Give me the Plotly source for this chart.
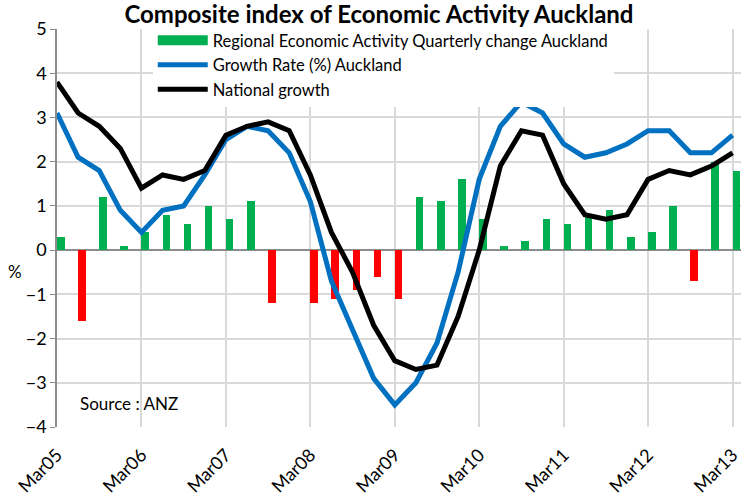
import plotly.graph_objects as go

quarters = list(range(33))
tick_pos = [0, 4, 8, 12, 16, 20, 24, 28, 32]
tick_labels = ["Mar05", "Mar06", "Mar07", "Mar08", "Mar09", "Mar10", "Mar11", "Mar12", "Mar13"]

regional_change = [0.3, -1.6, 1.2, 0.1, 0.4, 0.8, 0.6, 1.0, 0.7, 1.1, -1.2, 0.0,
                   -1.2, -1.1, -0.9, -0.6, -1.1, 1.2, 1.1, 1.6, 0.7, 0.1, 0.2, 0.7,
                   0.6, 0.8, 0.9, 0.3, 0.4, 1.0, -0.7, 2.0, 1.8]
auckland_growth = [3.1, 2.1, 1.8, 0.9, 0.4, 0.9, 1.0, 1.7, 2.5, 2.8, 2.7, 2.2,
                   1.1, -0.7, -1.8, -2.9, -3.5, -3.0, -2.1, -0.5, 1.6, 2.8, 3.35, 3.1,
                   2.4, 2.1, 2.2, 2.4, 2.7, 2.7, 2.2, 2.2, 2.6]
national_growth = [3.8, 3.1, 2.8, 2.3, 1.4, 1.7, 1.6, 1.8, 2.6, 2.8, 2.9, 2.7,
                   1.7, 0.4, -0.5, -1.7, -2.5, -2.7, -2.6, -1.5, 0.0, 1.9, 2.7, 2.6,
                   1.5, 0.8, 0.7, 0.8, 1.6, 1.8, 1.7, 1.9, 2.2]

names = ["Regional Economic Activity Quarterly change Auckland",
         "Growth Rate (%) Auckland",
         "National growth"]
GREEN = "#00B050"
RED = "#FF0000"
BLUE = "#0070C0"
FONT = "Lato, 'Open Sans', sans-serif"

bar_colors = [GREEN if v >= 0 else RED for v in regional_change]

fig = go.Figure()
fig.add_trace(go.Bar(x=quarters, y=regional_change, marker=dict(color=bar_colors, line=dict(width=0)),
                     width=0.36, offset=0, showlegend=False, name=names[0]))
# legend proxy for the bar series (wide green swatch)
fig.add_trace(go.Scatter(x=[None], y=[None], mode="lines", name=names[0],
                         line=dict(color=GREEN, width=10)))
fig.add_trace(go.Scatter(x=quarters, y=auckland_growth, mode="lines", name=names[1],
                         line=dict(color=BLUE, width=5)))
fig.add_trace(go.Scatter(x=quarters, y=national_growth, mode="lines", name=names[2],
                         line=dict(color="black", width=5)))

fig.update_layout(
    width=743, height=497,
    margin=dict(l=57, r=2, t=29, b=70, autoexpand=False),
    paper_bgcolor="white", plot_bgcolor="white",
    font=dict(family=FONT, size=16, color="black"),
    title=dict(text="<b>Composite index of Economic Activity Auckland</b>",
               x=0.51, xanchor="center", y=0.97, yanchor="middle",
               font=dict(size=24, family=FONT, color="black")),
    bargap=0,
    showlegend=True,
    legend=dict(x=0.14, y=1.015, xanchor="left", yanchor="top",
                bgcolor="white", borderwidth=0, font=dict(size=16.5, family=FONT),
                itemwidth=50, tracegroupgap=0, traceorder="normal"),
    xaxis=dict(range=[0, 32.4], tickvals=tick_pos, ticktext=tick_labels, automargin=False,
               tickangle=-45, showgrid=True, gridcolor="#D9D9D9", gridwidth=1.5,
               zeroline=False, showline=False, ticks="", ticklabelstandoff=13,
               tickfont=dict(size=18)),
    yaxis=dict(range=[-4, 5], dtick=1, showgrid=True, gridcolor="#D9D9D9", gridwidth=1.5,
               zeroline=True, zerolinecolor="#8C8C8C", zerolinewidth=1.5, automargin=False,
               showline=True, linecolor="#8C8C8C", linewidth=1.5,
               ticks="outside", ticklen=5, tickcolor="#8C8C8C",
               tickfont=dict(size=18)),
    annotations=[
        dict(text="%", xref="paper", yref="paper", x=-0.061, y=0.39,
             showarrow=False, font=dict(size=17, family=FONT), xanchor="center",
             yanchor="middle"),
        dict(text="Source : ANZ", xref="paper", yref="paper", x=0.03, y=0.058,
             showarrow=False, font=dict(size=17, family=FONT), xanchor="left",
             yanchor="middle"),
    ],
)

fig.write_html("out.html", config={"displayModeBar": False},
               post_script="document.body.style.margin='0';document.body.style.overflow='hidden';")
